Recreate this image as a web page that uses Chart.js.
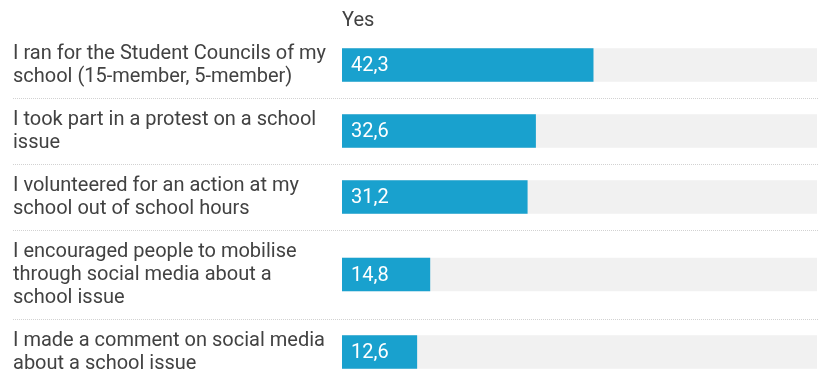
<!DOCTYPE html>
<html>
<head>
<meta charset="utf-8">
<script src="https://cdn.jsdelivr.net/npm/chart.js@4/dist/chart.umd.min.js"></script>
<style>
  body { margin: 0; background: #fff; }
  canvas { display: block; }
</style>
</head>
<body>
<canvas id="myChart" width="819" height="371"></canvas>
<script>
// question labels, one entry per line as they wrap
const categories = [
  ['I ran for the Student Councils of my', 'school (15-member, 5-member)'],
  ['I took part in a protest on a school', 'issue'],
  ['I volunteered for an action at my', 'school out of school hours'],
  ['I encouraged people to mobilise', 'through social media about a', 'school issue'],
  ['I made a comment on social media', 'about a school issue']
];
const seriesName = 'Yes';
const yesValues = [42.3, 32.6, 31.2, 14.8, 12.6];
const scaleMax = 80;

const textColor = '#424242';
const barColor = '#19a1ce';
const trackColor = '#f1f1f1';
const fontFamily = 'Roboto, sans-serif';
const fontSize = 20;

const lineHeight = 23;
const plotTop = 32;
const canvasHeight = 371;

// rows grow with the number of label lines
function buildRows(labels) {
  let top = 0;
  return labels.map((lines) => {
    const height = lines.length * lineHeight + 20;
    const row = { top: top, center: top + height / 2, bottom: top + height, lines: lines };
    top += height;
    return row;
  });
}

const rows = buildRows(categories);

function formatValue(v) {
  return v.toFixed(1).replace('.', ',');
}

const labelPlugin = {
  id: 'rowLabels',
  beforeDatasetsDraw(chart) {
    const ctx = chart.ctx;
    const yScale = chart.scales.y;
    ctx.save();
    // dotted separators between rows
    ctx.strokeStyle = '#d2d2d2';
    ctx.lineWidth = 1;
    ctx.setLineDash([1, 1]);
    rows.slice(0, -1).forEach((row) => {
      const y = Math.round(yScale.getPixelForValue(row.bottom)) + 0.5;
      ctx.beginPath();
      ctx.moveTo(13, y);
      ctx.lineTo(chart.width, y);
      ctx.stroke();
    });
    ctx.setLineDash([]);

    // question text on the left
    ctx.fillStyle = textColor;
    ctx.font = fontSize + 'px ' + fontFamily;
    ctx.textAlign = 'left';
    ctx.textBaseline = 'middle';
    rows.forEach((row) => {
      const mid = yScale.getPixelForValue(row.center);
      const first = mid - (row.lines.length - 1) * lineHeight / 2 + 0.5;
      row.lines.forEach((line, i) => {
        ctx.fillText(line, 13, first + i * lineHeight);
      });
    });

    // column header
    ctx.fillText(seriesName, chart.chartArea.left, 21);
    ctx.restore();
  },
  afterDatasetsDraw(chart) {
    const ctx = chart.ctx;
    const meta = chart.getDatasetMeta(0);
    ctx.save();
    ctx.fillStyle = '#ffffff';
    ctx.font = fontSize + 'px ' + fontFamily;
    ctx.textAlign = 'left';
    ctx.textBaseline = 'middle';
    meta.data.forEach((bar, i) => {
      ctx.fillText(formatValue(yesValues[i]), bar.base + 9, bar.y + 1);
    });
    ctx.restore();
  }
};

const chartTarget = document.querySelector('#myChart');

new Chart(chartTarget, {
  type: 'bar',
  data: {
    datasets: [
      {
        label: seriesName,
        data: rows.map((row, i) => ({ x: yesValues[i], y: row.center })),
        backgroundColor: barColor,
        borderWidth: 0,
        barThickness: 33,
        grouped: false
      },
      {
        label: 'track',
        data: rows.map((row) => ({ x: scaleMax, y: row.center })),
        backgroundColor: trackColor,
        borderWidth: 0,
        barThickness: 33,
        grouped: false
      }
    ]
  },
  options: {
    indexAxis: 'y',
    responsive: false,
    animation: false,
    layout: { padding: { left: 342, right: 2, top: plotTop, bottom: 0 } },
    scales: {
      x: { display: false, min: 0, max: scaleMax },
      y: {
        type: 'linear',
        display: false,
        reverse: true,
        offset: false,
        min: 0,
        max: canvasHeight - plotTop
      }
    },
    plugins: {
      legend: { display: false },
      tooltip: { enabled: false }
    }
  },
  plugins: [labelPlugin]
});
</script>
</body>
</html>
